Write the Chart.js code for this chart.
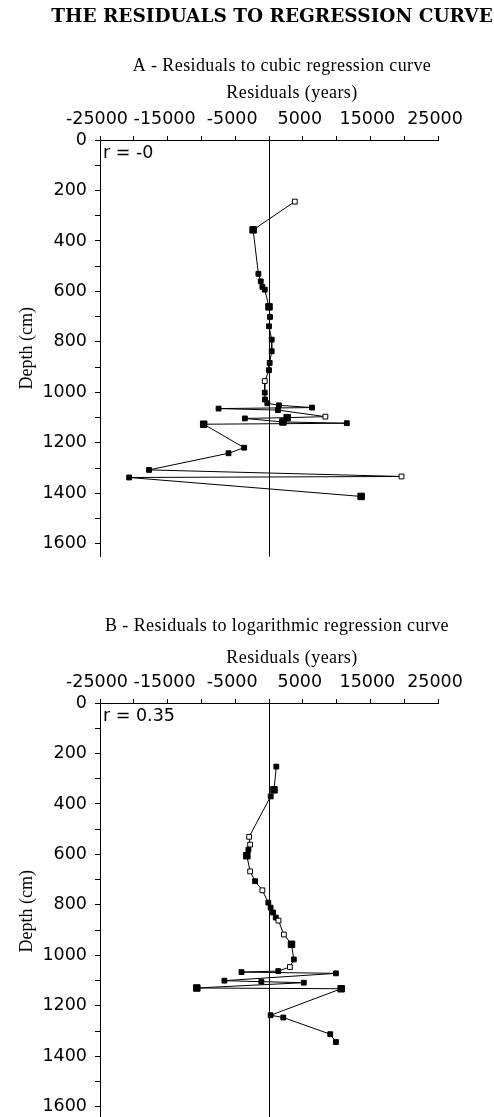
<!DOCTYPE html>
<html>
<head>
<meta charset="utf-8">
<script src="https://cdn.jsdelivr.net/npm/chart.js@4"></script>
<style>
  html, body { margin: 0; padding: 0; background: #fff; overflow: hidden; }
  .box { position: absolute; left: 0; width: 494px; }
  #boxA { top: 0; height: 575px; }
  #boxB { top: 575px; height: 563px; }
</style>
</head>
<body>
<div class="box" id="boxA"><canvas id="chartA"></canvas></div>
<div class="box" id="boxB"><canvas id="chartB"></canvas></div>
<script>
// tick labels
const xTickLabels = [-25000, -15000, -5000, 5000, 15000, 25000];
const yTickLabels = [0, 200, 400, 600, 800, 1000, 1200, 1400, 1600];

// A - residuals to cubic regression curve
const depthA = [244, 356, 530, 560, 582, 593, 661, 701, 738, 791, 837, 883, 912, 955, 1001, 1028, 1043,
  1051, 1060, 1064, 1070, 1096, 1100, 1103, 1117, 1122, 1126, 1219, 1241, 1307, 1333, 1337, 1412];
const residA = [3820, -2350, -1570, -1220, -980, -630, 0, 150, 0, 400, 400, 100, 0, -630, -630, -590, -250,
  1470, 6370, -7460, 1320, 8340, 2690, -3570, 2060, 11510, -9660, -3680, -5990, -17750, 19600, -20690, 13630];
const rA = 'r = -0';

// B - residuals to logarithmic regression curve
const depthB = [252, 344, 370, 530, 561, 581, 605, 667, 706, 742, 791, 811, 830, 850, 862, 917, 956, 1016,
  1046, 1062, 1066, 1071, 1100, 1104, 1108, 1129, 1132, 1237, 1246, 1312, 1343];
const residB = [1080, 740, 250, -2940, -2790, -3040, -3280, -2790, -2060, -980, -100, 240, 590, 1000, 1400, 2200, 3330, 3675,
  3090, 1370, -4070, 9900, -6600, -1130, 5150, -10680, 10680, 240, 2110, 9060, 9900];
const rB = 'r = 0.35';

// marker styles (indices)
const hollowA = [0, 13, 21, 30];
const bigA = [1, 6, 22, 24, 26, 32];
const hollowB = [3, 4, 7, 9, 14, 15, 18];
const bigB = [1, 6, 16, 25, 26];

const sansFont = 'DejaVu Sans';
const serifFont = 'Liberation Serif';

const textPlugin = {
  id: 'texts',
  afterDraw(chart, args, opts) {
    const ctx = chart.ctx, area = chart.chartArea;
    ctx.save();
    ctx.fillStyle = '#000';
    ctx.textBaseline = 'middle';
    (opts.lines || []).forEach(l => {
      ctx.font = l.font;
      ctx.letterSpacing = l.spacing || '0px';
      ctx.textAlign = l.align || 'center';
      ctx.fillText(l.text, l.x, area.top + l.dy);
    });
    ctx.restore();
  }
};

function makeChart(id, depths, resid, hollow, big, lines, pad) {
  const points = depths.map((d, i) => ({ x: resid[i], y: d }));
  return new Chart(document.getElementById(id), {
    type: 'scatter',
    data: {
      datasets: [{
        data: points,
        showLine: true,
        borderColor: '#000',
        borderWidth: 1,
        pointStyle: 'rect',
        pointRadius: c => big.includes(c.dataIndex) ? 4.6 : 3.4,
        pointBorderColor: '#000',
        pointBorderWidth: 1,
        pointBackgroundColor: c => hollow.includes(c.dataIndex) ? '#fff' : '#000'
      }]
    },
    options: {
      responsive: true,
      maintainAspectRatio: false,
      animation: false,
      layout: { padding: pad },
      plugins: {
        legend: { display: false },
        tooltip: { enabled: false },
        texts: { lines: lines }
      },
      scales: {
        x: {
          type: 'linear',
          position: 'top',
          min: -25000,
          max: 25000,
          afterFit: s => { s.height = 32; },
          border: { display: true, color: '#000', width: 1 },
          grid: {
            drawOnChartArea: true,
            color: c => (c.tick && c.tick.value === 0) ? '#000' : 'rgba(0,0,0,0)',
            tickColor: '#000',
            tickLength: 4,
            lineWidth: 1
          },
          ticks: {
            stepSize: 5000,
            autoSkip: false,
            maxRotation: 0,
            padding: 6,
            labelOffset: -3,
            color: '#000',
            font: { family: sansFont, size: 17.5 },
            callback: v => xTickLabels.includes(v) ? String(v) : ''
          }
        },
        y: {
          type: 'linear',
          reverse: true,
          min: 0,
          max: 1650,
          afterFit: s => { s.width = 100; },
          border: { display: true, color: '#000', width: 1 },
          grid: { drawOnChartArea: false, tickColor: '#000', tickLength: 5 },
          title: {
            display: true,
            text: 'Depth (cm)',
            color: '#000',
            font: { family: serifFont, size: 18 },
            padding: { top: 16, bottom: 0 }
          },
          ticks: {
            stepSize: 100,
            includeBounds: false,
            autoSkip: false,
            padding: 8,
            color: '#000',
            font: { family: sansFont, size: 17.5 },
            callback: v => yTickLabels.includes(v) ? String(v) : ''
          }
        }
      }
    },
    plugins: [textPlugin]
  });
}

makeChart('chartA', depthA, residA, hollowA, bigA, [
  { text: 'THE RESIDUALS TO REGRESSION CURVE', font: 'bold 18.5px "DejaVu Serif"', x: 272, dy: -123 },
  { text: 'A - Residuals to cubic regression curve', font: '18px "Liberation Serif"', x: 282, dy: -74, spacing: '0.4px' },
  { text: 'Residuals (years)', font: '18px "Liberation Serif"', x: 292, dy: -47, spacing: '0.4px' },
  { text: rA, font: '17.5px "DejaVu Sans"', x: 103, dy: 13, align: 'left' }
], { top: 108, right: 56, bottom: 18, left: 0 });

makeChart('chartB', depthB, residB, hollowB, bigB, [
  { text: 'B - Residuals to logarithmic regression curve', font: '18px "Liberation Serif"', x: 277, dy: -77, spacing: '0.4px' },
  { text: 'Residuals (years)', font: '18px "Liberation Serif"', x: 292, dy: -45, spacing: '0.4px' },
  { text: rB, font: '17.5px "DejaVu Sans"', x: 103, dy: 13, align: 'left' }
], { top: 96, right: 56, bottom: 18, left: 0 });
</script>
</body>
</html>
